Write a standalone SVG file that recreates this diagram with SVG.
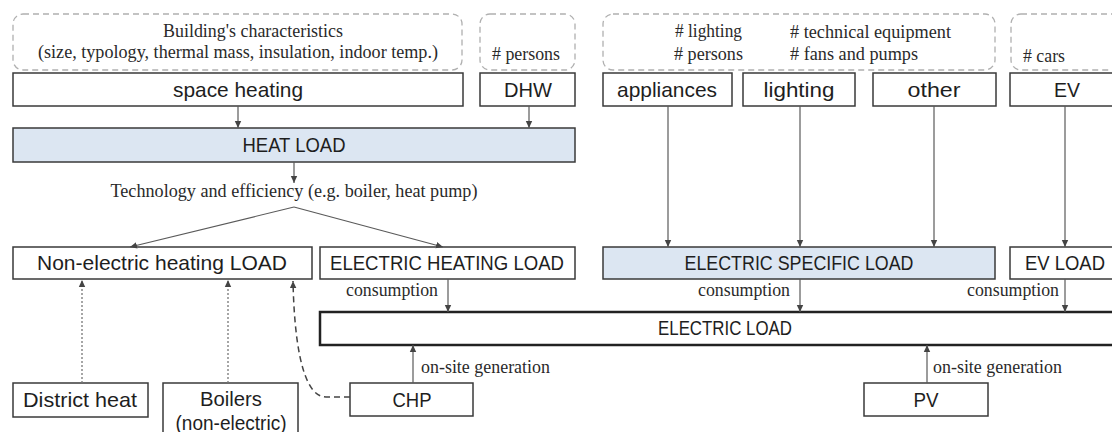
<svg xmlns="http://www.w3.org/2000/svg" width="1112" height="432" viewBox="0 0 1112 432">
<style>
.box{fill:#fff;stroke:#3a3a3a;stroke-width:1.5}
.blue{fill:#dce6f2;stroke:#3a3a3a;stroke-width:1.5}
.thick{fill:#fff;stroke:#222;stroke-width:2.5}
.dash{fill:none;stroke:#b0b0b0;stroke-width:1.3;stroke-dasharray:6 4}
.lbl{font-family:"Liberation Sans",Arial,sans-serif;font-size:21px;fill:#1e1e1e;text-anchor:middle}
.ser{font-family:"Liberation Serif","Times New Roman",serif;font-size:18px;fill:#2a2a2a}
.c{fill:none;stroke:#5a5a5a;stroke-width:1.2}
.dot{fill:none;stroke:#777;stroke-width:1.3;stroke-dasharray:2 2}
.dsh{fill:none;stroke:#444;stroke-width:1.5;stroke-dasharray:6 4}
</style>
<defs>
<marker id="ah" markerWidth="8" markerHeight="8" refX="7" refY="4" orient="auto" markerUnits="userSpaceOnUse">
<path d="M0,0.8 L7,4 L0,7.2 Z" fill="#444"/>
</marker>
</defs>
<rect width="1112" height="432" fill="#fff"/>

<g id="building-chars">
<rect class="dash" x="13" y="14" width="449" height="56" rx="10"/>
<text class="ser" x="253" y="37" text-anchor="middle" textLength="180" lengthAdjust="spacingAndGlyphs">Building's characteristics</text>
<text class="ser" x="238" y="58" text-anchor="middle" textLength="400" lengthAdjust="spacingAndGlyphs">(size, typology, thermal mass, insulation, indoor temp.)</text>
</g>
<g id="persons-dhw">
<rect class="dash" x="480" y="14" width="95" height="56" rx="10"/>
<text class="ser" x="492" y="60" textLength="68" lengthAdjust="spacingAndGlyphs"># persons</text>
</g>
<g id="elec-params">
<rect class="dash" x="603" y="14" width="392" height="56" rx="10"/>
<text class="ser" x="675" y="37" textLength="67" lengthAdjust="spacingAndGlyphs"># lighting</text>
<text class="ser" x="674" y="60" textLength="69" lengthAdjust="spacingAndGlyphs"># persons</text>
<text class="ser" x="790" y="38" textLength="161" lengthAdjust="spacingAndGlyphs"># technical  equipment</text>
<text class="ser" x="790" y="60" textLength="128" lengthAdjust="spacingAndGlyphs"># fans and pumps</text>
</g>
<g id="cars">
<rect class="dash" x="1011" y="14" width="120" height="56" rx="10"/>
<text class="ser" x="1023" y="62" textLength="42" lengthAdjust="spacingAndGlyphs"># cars</text>
</g>

<g id="space-heating"><rect class="box" x="13" y="73" width="450" height="33"/><text class="lbl" x="238" y="97" textLength="130" lengthAdjust="spacingAndGlyphs">space heating</text></g>
<g id="dhw"><rect class="box" x="480" y="73" width="95" height="33"/><text class="lbl" x="528" y="97" textLength="48" lengthAdjust="spacingAndGlyphs">DHW</text></g>
<g id="appliances"><rect class="box" x="603" y="73" width="129" height="33"/><text class="lbl" x="667" y="97" textLength="100" lengthAdjust="spacingAndGlyphs">appliances</text></g>
<g id="lighting"><rect class="box" x="743" y="73" width="112" height="33"/><text class="lbl" x="799" y="97" textLength="71" lengthAdjust="spacingAndGlyphs">lighting</text></g>
<g id="other"><rect class="box" x="873" y="73" width="123" height="33"/><text class="lbl" x="934" y="97" textLength="53" lengthAdjust="spacingAndGlyphs">other</text></g>
<g id="ev"><rect class="box" x="1010" y="73" width="115" height="33"/><text class="lbl" x="1067" y="97" textLength="26" lengthAdjust="spacingAndGlyphs">EV</text></g>

<g id="heat-load"><rect class="blue" x="13" y="128" width="562" height="34"/><text class="lbl" x="294" y="152" textLength="103" lengthAdjust="spacingAndGlyphs">HEAT LOAD</text></g>
<g id="tech-label"><text class="ser" x="294" y="197" text-anchor="middle" textLength="367" lengthAdjust="spacingAndGlyphs">Technology and efficiency (e.g. boiler, heat pump)</text></g>

<g id="non-electric-load"><rect class="box" x="13" y="247" width="299" height="32"/><text class="lbl" x="162" y="270" textLength="250" lengthAdjust="spacingAndGlyphs">Non-electric heating LOAD</text></g>
<g id="electric-heating-load"><rect class="box" x="320" y="247" width="255" height="32"/><text class="lbl" x="447" y="270" textLength="234" lengthAdjust="spacingAndGlyphs">ELECTRIC HEATING LOAD</text></g>
<g id="electric-specific-load"><rect class="blue" x="603" y="247" width="392" height="32"/><text class="lbl" x="799" y="270" textLength="229" lengthAdjust="spacingAndGlyphs">ELECTRIC SPECIFIC LOAD</text></g>
<g id="ev-load"><rect class="box" x="1010" y="247" width="115" height="32"/><text class="lbl" x="1065" y="270" textLength="80" lengthAdjust="spacingAndGlyphs">EV LOAD</text></g>

<g id="electric-load"><rect class="thick" x="320" y="312" width="805" height="33"/><text class="lbl" x="725" y="335" textLength="134" lengthAdjust="spacingAndGlyphs">ELECTRIC LOAD</text></g>

<g id="district-heat"><rect class="box" x="13" y="383" width="135" height="34"/><text class="lbl" x="80" y="407" textLength="114" lengthAdjust="spacingAndGlyphs">District heat</text></g>
<g id="boilers"><rect class="box" x="163" y="383" width="135" height="60"/><text class="lbl" x="231" y="406" textLength="62" lengthAdjust="spacingAndGlyphs">Boilers</text><text class="lbl" x="231" y="430" textLength="111" lengthAdjust="spacingAndGlyphs">(non-electric)</text></g>
<g id="chp"><rect class="box" x="350" y="383" width="123" height="33"/><text class="lbl" x="412" y="407" textLength="39" lengthAdjust="spacingAndGlyphs">CHP</text></g>
<g id="pv"><rect class="box" x="864" y="383" width="124" height="33"/><text class="lbl" x="926" y="407" textLength="25" lengthAdjust="spacingAndGlyphs">PV</text></g>

<g id="connectors">
<line class="c" x1="238" y1="106" x2="238" y2="128" marker-end="url(#ah)"/>
<line class="c" x1="529" y1="106" x2="529" y2="128" marker-end="url(#ah)"/>
<line class="c" x1="294" y1="162" x2="294" y2="183" marker-end="url(#ah)"/>
<line class="c" x1="294" y1="207" x2="130" y2="247" marker-end="url(#ah)"/>
<line class="c" x1="294" y1="207" x2="443" y2="247" marker-end="url(#ah)"/>
<line class="c" x1="668" y1="106" x2="668" y2="247" marker-end="url(#ah)"/>
<line class="c" x1="800" y1="106" x2="800" y2="247" marker-end="url(#ah)"/>
<line class="c" x1="934" y1="106" x2="934" y2="247" marker-end="url(#ah)"/>
<line class="c" x1="1065" y1="106" x2="1065" y2="247" marker-end="url(#ah)"/>
<line class="c" x1="448" y1="279" x2="448" y2="312" marker-end="url(#ah)"/>
<line class="c" x1="800" y1="279" x2="800" y2="312" marker-end="url(#ah)"/>
<line class="c" x1="1065" y1="279" x2="1065" y2="312" marker-end="url(#ah)"/>
<line class="c" x1="413" y1="383" x2="413" y2="345" marker-end="url(#ah)"/>
<line class="c" x1="927" y1="383" x2="927" y2="345" marker-end="url(#ah)"/>
<line class="dot" x1="82" y1="383" x2="82" y2="280" marker-end="url(#ah)"/>
<line class="dot" x1="228" y1="383" x2="228" y2="280" marker-end="url(#ah)"/>
<path class="dsh" d="M350,397 L326,397 C300,397 294,330 293,281" marker-end="url(#ah)"/>
<text class="ser" x="346" y="296" textLength="92" lengthAdjust="spacingAndGlyphs">consumption</text>
<text class="ser" x="698" y="296" textLength="92" lengthAdjust="spacingAndGlyphs">consumption</text>
<text class="ser" x="967" y="296" textLength="92" lengthAdjust="spacingAndGlyphs">consumption</text>
<text class="ser" x="421" y="373" textLength="129" lengthAdjust="spacingAndGlyphs">on-site generation</text>
<text class="ser" x="933" y="373" textLength="129" lengthAdjust="spacingAndGlyphs">on-site generation</text>
</g>
</svg>
